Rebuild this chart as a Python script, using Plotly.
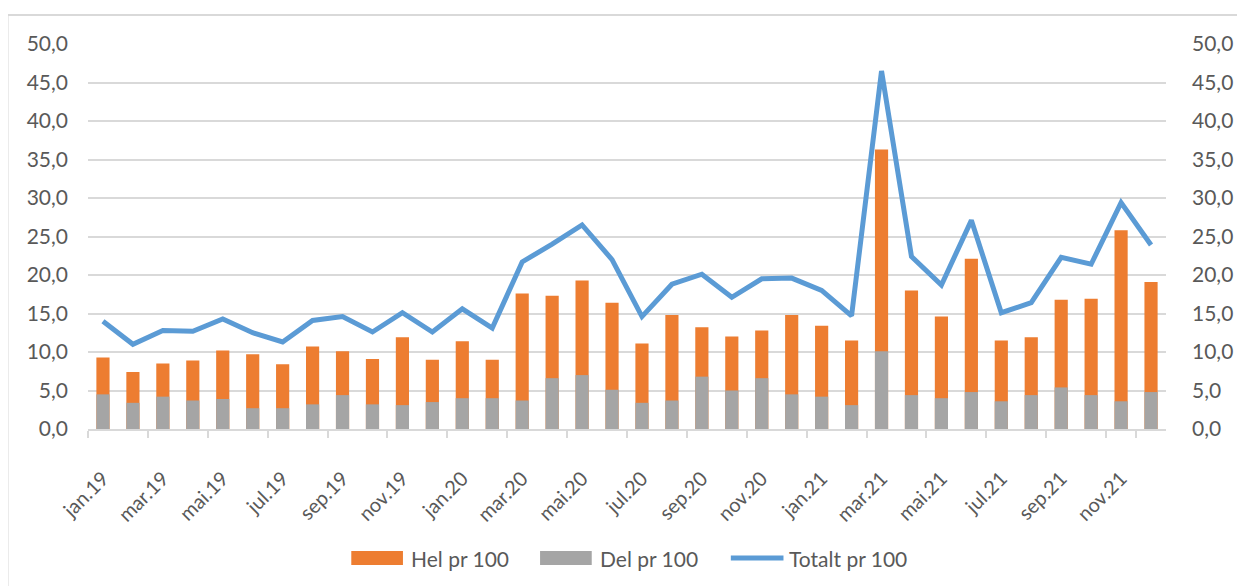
import plotly.graph_objects as go

months = ["jan.19", "feb.19", "mar.19", "apr.19", "mai.19", "jun.19", "jul.19", "aug.19", "sep.19", "okt.19", "nov.19", "des.19",
          "jan.20", "feb.20", "mar.20", "apr.20", "mai.20", "jun.20", "jul.20", "aug.20", "sep.20", "okt.20", "nov.20", "des.20",
          "jan.21", "feb.21", "mar.21", "apr.21", "mai.21", "jun.21", "jul.21", "aug.21", "sep.21", "okt.21", "nov.21", "des.21"]

hel = [9.3, 7.4, 8.5, 8.9, 10.2, 9.7, 8.4, 10.7, 10.1, 9.1, 11.9, 9.0,
       11.4, 9.0, 17.6, 17.3, 19.3, 16.4, 11.1, 14.8, 13.2, 12.0, 12.8, 14.8,
       13.4, 11.5, 36.3, 18.0, 14.6, 22.1, 11.5, 11.9, 16.8, 16.9, 25.8, 19.1]

del_ = [4.5, 3.4, 4.2, 3.7, 3.9, 2.7, 2.7, 3.2, 4.4, 3.2, 3.1, 3.5,
        4.0, 4.0, 3.7, 6.6, 7.0, 5.1, 3.4, 3.7, 6.8, 5.0, 6.6, 4.5,
        4.2, 3.1, 10.1, 4.4, 4.0, 4.8, 3.6, 4.4, 5.4, 4.4, 3.6, 4.8]

totalt = [14.0, 11.0, 12.8, 12.7, 14.3, 12.5, 11.3, 14.1, 14.6, 12.6, 15.1, 12.6,
          15.6, 13.1, 21.7, 24.0, 26.5, 22.0, 14.6, 18.8, 20.1, 17.1, 19.5, 19.6,
          18.0, 14.7, 46.5, 22.4, 18.7, 27.1, 15.1, 16.4, 22.3, 21.4, 29.4, 23.9]

tick_labels = months[::2]
series_names = ["Hel pr 100", "Del pr 100", "Totalt pr 100"]

ORANGE = "#ED7D31"
GRAY = "#A5A5A5"
BLUE = "#5B9BD5"
GRID = "#D9D9D9"
TXT = "#595959"
FONT = "Lato"

# figure geometry (page body has an 8px offset)
W, H = 1237, 578
L, R, T, B = 80, 72, 36, 157
PW = W - L - R
PH = H - T - B


def px_x(p):
    return (p - L) / PW


def px_y(p):
    return (H - B - p) / PH


fig = go.Figure()
fig.add_trace(go.Bar(x=months, y=hel, name=series_names[0], marker=dict(color=ORANGE, line=dict(width=0))))
fig.add_trace(go.Bar(x=months, y=del_, name=series_names[1], marker=dict(color=GRAY, line=dict(width=0))))
fig.add_trace(go.Scatter(x=months, y=totalt, name=series_names[2], mode="lines",
                         line=dict(color=BLUE, width=5), yaxis="y2"))

# custom legend (Excel style wide keys)
leg_y = 550
shapes = [
    dict(type="rect", xref="paper", yref="paper",
         x0=px_x(-1), x1=px_x(1260), y0=px_y(600), y1=px_y(7),
         line=dict(color=GRID, width=2), fillcolor="rgba(0,0,0,0)", layer="below"),
    dict(type="rect", xref="paper", yref="paper", x0=px_x(345), x1=px_x(397),
         y0=px_y(leg_y + 7), y1=px_y(leg_y - 7), fillcolor=ORANGE, line=dict(width=0)),
    dict(type="rect", xref="paper", yref="paper", x0=px_x(535), x1=px_x(587),
         y0=px_y(leg_y + 7), y1=px_y(leg_y - 7), fillcolor=GRAY, line=dict(width=0)),
    dict(type="line", xref="paper", yref="paper", x0=px_x(727), x1=px_x(780),
         y0=px_y(leg_y), y1=px_y(leg_y), line=dict(color=BLUE, width=5)),
]
annotations = [
    dict(text=series_names[0], xref="paper", yref="paper", x=px_x(403), y=px_y(leg_y),
         xanchor="left", yanchor="middle", showarrow=False, font=dict(family=FONT, size=21, color=TXT)),
    dict(text=series_names[1], xref="paper", yref="paper", x=px_x(593), y=px_y(leg_y),
         xanchor="left", yanchor="middle", showarrow=False, font=dict(family=FONT, size=21, color=TXT)),
    dict(text=series_names[2], xref="paper", yref="paper", x=px_x(784), y=px_y(leg_y),
         xanchor="left", yanchor="middle", showarrow=False, font=dict(family=FONT, size=21, color=TXT)),
]

fig.update_layout(
    width=W, height=H,
    margin=dict(l=L, r=R, t=T, b=B),
    paper_bgcolor="white", plot_bgcolor="white",
    barmode="overlay", bargap=0.56,
    separators=", ",
    font=dict(family=FONT, size=21, color=TXT),
    showlegend=False,
    xaxis=dict(type="category", tickmode="array", tickvals=tick_labels, ticktext=tick_labels,
               tickangle=-45, tickson="boundaries", ticks="outside", ticklen=7, tickcolor=GRID,
               tickwidth=2, showline=True, linecolor=GRID, linewidth=2, showgrid=False,
               ticklabelstandoff=28,
               tickfont=dict(family=FONT, size=20, color=TXT), range=[-0.5, 35.5]),
    yaxis=dict(range=[0, 50], dtick=5, tickformat=".1f", showgrid=True, gridcolor=GRID, gridwidth=2,
               zeroline=False, showline=False, ticks="", ticklabelstandoff=19,
               tickfont=dict(family=FONT, size=21, color=TXT)),
    yaxis2=dict(range=[0, 50], dtick=5, tickformat=".1f", overlaying="y", side="right",
                showgrid=False, zeroline=False, showline=False, ticks="", ticklabelstandoff=25,
                tickfont=dict(family=FONT, size=21, color=TXT)),
    shapes=shapes,
    annotations=annotations,
)

fig.write_html("out.html")
